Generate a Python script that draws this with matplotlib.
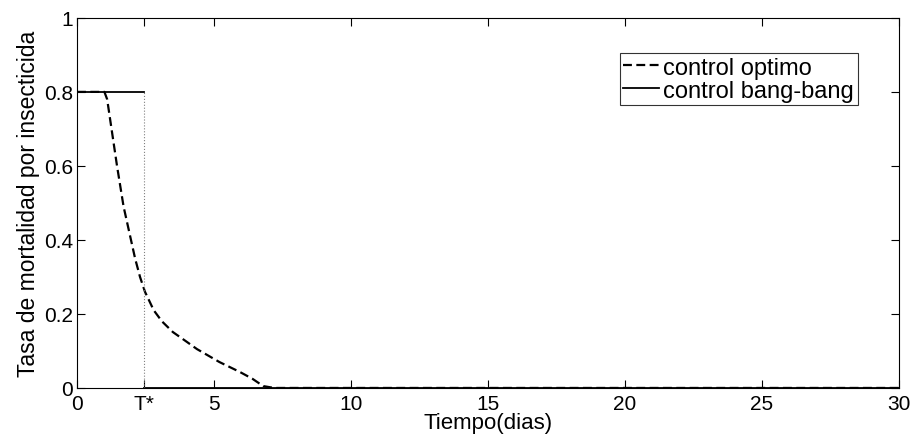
import numpy as np
import matplotlib
matplotlib.use("Agg")
import matplotlib.pyplot as plt

plt.rcParams['font.family'] = ['Liberation Sans', 'DejaVu Sans']

t_star = 2.45  # switching time of bang-bang control

# optimal control
opt_t = [0, 1.0, 1.1, 1.3, 1.46, 1.7, 1.97, 2.12, 2.3, 2.48, 2.8, 3.1, 3.5, 4.0,
         4.38, 5.2, 5.95, 6.4, 6.8, 7.2, 30]
opt_u = [0.8, 0.8, 0.78, 0.68, 0.6, 0.49, 0.4, 0.35, 0.3, 0.26, 0.21, 0.18, 0.151,
         0.125, 0.105, 0.07, 0.043, 0.025, 0.005, 0, 0]

# bang-bang control
bb_t1 = [0, t_star]
bb_u1 = [0.8, 0.8]
bb_t2 = [t_star, 30]
bb_u2 = [0, 0]

xticks = [0, t_star, 5, 10, 15, 20, 25, 30]
xticklabels = ['0', 'T*', '5', '10', '15', '20', '25', '30']
yticks = [0, 0.2, 0.4, 0.6, 0.8, 1]
yticklabels = ['0', '0.2', '0.4', '0.6', '0.8', '1']

fig = plt.figure(figsize=(9.17, 4.39), dpi=100)
ax = fig.add_axes([0.084, 0.114, 0.896, 0.843])

ax.plot(opt_t, opt_u, 'k--', lw=1.6, dashes=(4, 2), label='control optimo')
ax.plot(bb_t1, bb_u1, 'k-', lw=1.3, label='control bang-bang')
ax.plot(bb_t2, bb_u2, 'k-', lw=1.3)
ax.plot([t_star, t_star], [0, 0.8], color='gray', ls=':', lw=0.8)

ax.set_xlim(0, 30)
ax.set_ylim(0, 1)
ax.set_xticks(xticks)
ax.set_xticklabels(xticklabels)
ax.set_yticks(yticks)
ax.set_yticklabels(yticklabels)
ax.tick_params(direction='in', length=6, width=0.8, top=True, right=True,
               labelsize=15)
ax.tick_params(axis='x', pad=4.5)
ax.tick_params(axis='y', pad=3)
for s in ax.spines.values():
    s.set_linewidth(0.8)

ax.set_xlabel('Tiempo(dias)', fontsize=16, labelpad=-1)
ax.set_ylabel('Tasa de mortalidad por insecticida', fontsize=16.5, labelpad=3)

leg = ax.legend(loc='upper right', bbox_to_anchor=(0.950, 0.905), fontsize=17,
                frameon=True, fancybox=False, handlelength=1.5, handletextpad=0.2,
                borderpad=0.15, labelspacing=0.05, borderaxespad=0)
leg.get_frame().set_edgecolor('black')
leg.get_frame().set_linewidth(0.8)

fig.savefig('out.png', dpi=100)
